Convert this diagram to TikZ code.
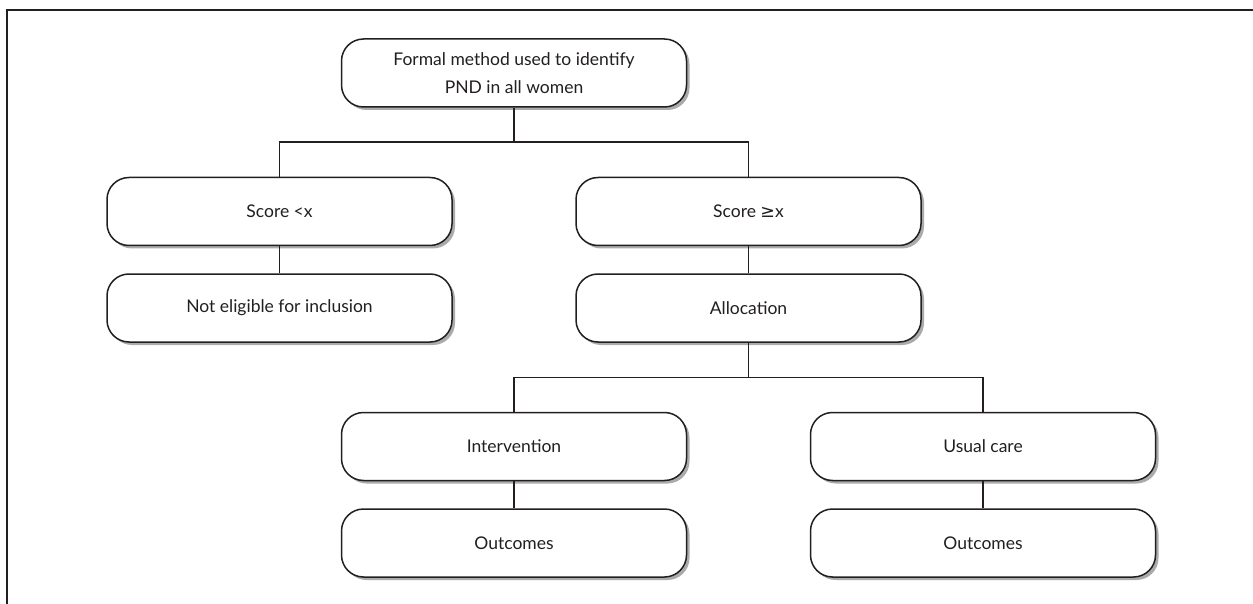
\documentclass[tikz,border=0pt]{standalone}
\usepackage{fontspec}
\setmainfont{Lato}
\newfontfamily\symfont{DejaVu Sans}
\usetikzlibrary{positioning,shadows}
\definecolor{ink}{HTML}{231F20}
\definecolor{shade}{HTML}{ABABAB}

\begin{document}
\begin{tikzpicture}[font=\fontsize{17.5}{28}\selectfont, color=ink, line width=1.5pt,
    box/.style={draw,rounded corners=22pt,fill=white,minimum width=345pt,
                minimum height=68pt,inner sep=2pt,align=center,
                drop shadow={shadow xshift=3pt,shadow yshift=-3pt,fill=shade,opacity=1}}]
  \useasboundingbox (0,0) rectangle (1253pt,-604pt);
  \draw[line width=1.7pt] (7pt,-604pt) -- (7pt,-10pt) -- (1253pt,-10pt);

  \node[box] (f) at (514pt,-73pt) {Formal method used to identify\\PND in all women};
  \node[box,below=69pt of f,xshift=-234.5pt] (lo) {Score <x};
  \node[box,below=69pt of f,xshift=234.5pt] (hi) {Score {\symfont ≥}x};
  \node[box,below=27pt of lo] (ne) {Not eligible for inclusion};
  \node[box,below=27pt of hi] (al) {Allocation};
  \node[box,below=69pt of al,xshift=-234.5pt] (iv) {Intervention};
  \node[box,below=69pt of al,xshift=234.5pt] (uc) {Usual care};
  \node[box,below=27pt of iv] (o1) {Outcomes};
  \node[box,below=27pt of uc] (o2) {Outcomes};

  % split lines
  \coordinate[below=34.5pt of f] (fj);
  \coordinate[below=34.5pt of al] (aj);
  \draw (f) -- (fj);
  \draw (lo) |- (fj) -| (hi);
  \draw (al) -- (aj);
  \draw (iv) |- (aj) -| (uc);

  \draw (lo) -- (ne);
  \draw (hi) -- (al);
  \draw (iv) -- (o1);
  \draw (uc) -- (o2);
\end{tikzpicture}
\end{document}
